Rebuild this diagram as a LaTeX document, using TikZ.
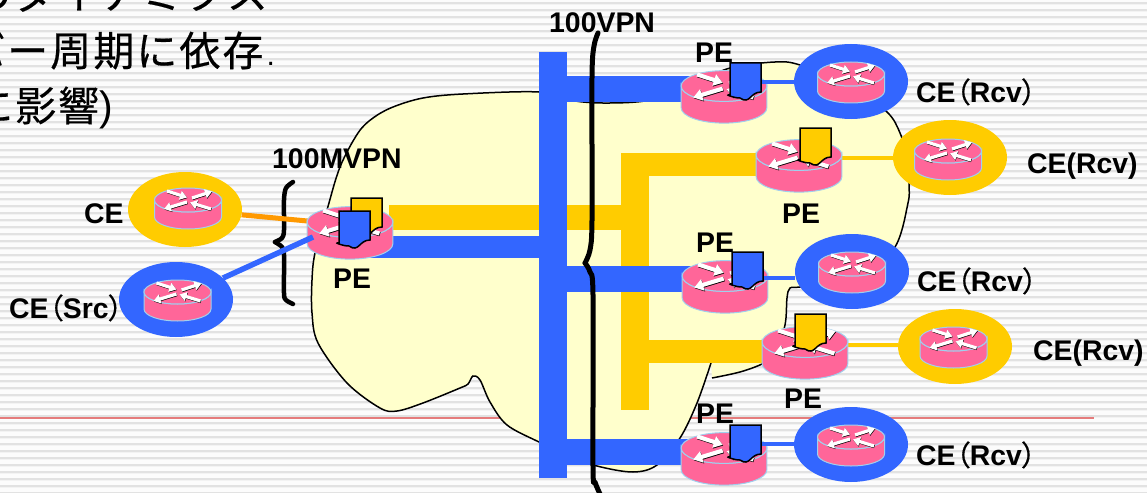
\documentclass[tikz,border=0pt]{standalone}
\usepackage{fontspec}
\usetikzlibrary{arrows.meta,shapes.geometric}
\setmainfont{Liberation Sans}
\newfontfamily\jpfont[LetterSpace=5,FakeBold=0.4]{Noto Sans CJK JP}
\newfontfamily\parenfont[RawFeature=+palt,FakeBold=0.5]{Noto Sans CJK JP}
\definecolor{vpnblue}{HTML}{3366FF}
\definecolor{vpnyellow}{HTML}{FFCC00}
\definecolor{vpnorange}{HTML}{FF9900}
\definecolor{routerpink}{HTML}{FF6699}
\definecolor{routeredge}{HTML}{A0D0EE}
\definecolor{cloudcream}{HTML}{FFFFCC}
\definecolor{stripegray}{HTML}{E2E2E2}
\definecolor{stripelight}{HTML}{F3F3F3}
\definecolor{rulered}{HTML}{E57C7C}
\tikzset{
  ring/.style={ellipse,inner sep=0pt,minimum width=114pt,minimum height=75pt},
  label/.style={anchor=base west,inner sep=0pt,yshift=-0.7pt,font=\fontsize{28.4}{28.4}\selectfont\bfseries,text=black},
  jptext/.style={inner sep=0pt,font=\fontsize{41}{41}\selectfont\jpfont,text=black},
  bluebar/.style={draw=vpnblue,line width=26pt},
  yellowbar/.style={draw=vpnyellow,line width=23pt},
  brace/.style={draw=black,line cap=round,line join=round},
}
\newcommand{\routerat}[4]{%
  \coordinate (#1) at (#2,#3);
  \begin{scope}[shift={(#2,#3)},scale=#4]
    \path[fill=routerpink,draw=routeredge,line width=1pt]
      (-33.5,0) arc[start angle=180,end angle=0,x radius=33.5,y radius=12]
      -- (33.5,17) arc[start angle=0,end angle=180,x radius=33.5,y radius=12] -- cycle;
    \path[fill=routerpink,draw=routeredge,line width=1pt] (0,0) ellipse[x radius=33.5,y radius=12];
    \foreach \ax/\ay/\bx/\by in {-21/-9/-1/-2.5, 4/-2/24/-8.5, -1/2/-24/9, 23/9/2/2.5}{
      \draw[black,line width=3.2pt*#4,-{Triangle[length=7pt,width=9pt,scale=#4]}] (\ax+.4,\ay+.6) -- (\bx+.4,\by+.6);
      \draw[white,line width=3.2pt*#4,-{Triangle[length=7pt,width=9pt,scale=#4]}] (\ax,\ay) -- (\bx,\by);
    }
  \end{scope}}
\newcommand{\docat}[3]{%
  \path[fill=#3,draw=black,line width=1.5pt,line join=miter]
    (#1,#2) -- ++(31,0) -- ++(0,29)
    .. controls ++(-11,0) and ++(10,7) .. ++(-21,6)
    .. controls ++(-4,0.5) and ++(-7,-1) .. ++(-10,-3) -- cycle;}
\begin{document}
\begin{tikzpicture}[x=1pt,y=-1pt]
\useasboundingbox (0,0) rectangle (1147,492);
\clip (0,0) rectangle (1147,492);
\fill[white!99!black] (0,0) rectangle (1147,492);
\foreach \s in {3,10,...,493}{
  \fill[stripegray] (0,\s-1) rectangle (1147,\s+1);
  \fill[stripelight] (0,\s+1) rectangle (1147,\s+2);
}
\fill[rulered] (0,417) rectangle (1094,418.5);

% title text
\node[jptext,anchor=base east] (t1) at (268,9) {のダイナミクス};
\node[jptext,anchor=base west] (t2) at (-36,66) {バー周期に依存{\normalfont\fontsize{30}{30}\selectfont\kern3pt.}};
\node[jptext,anchor=base west] (t3) at (-28,121) {に影響{\normalfont )}};

% cloud
\draw[fill=cloudcream,draw=black,line width=1.5pt] plot[smooth,tension=.55] coordinates {
 (711,363) (697,403) (680,438) (657,465) (633,472) (597,466) (567,455) (539,442) (507,425)
 (490,402) (480,380) (473,376) (468,384) (460,388) (423,403) (397,411) (380,408) (347,383)
 (318,343) (312,313) (312,280) (315,253) (327,210) (340,167) (358,133) (373,118) (393,107)
 (423,98) (463,94) (539,92) (575,101) (610,103) (650,100) (690,85) (730,68) (775,62) (800,65)
 (850,85) (887,112) (900,133) (908,160) (909,185) (908,203) (895,247) (860,280) (800,287)
 (790,288) (787,298) (785,325) (775,355) (762,364) (740,372) (712,378)};

% yellow tree
\node[fill=vpnyellow,inner sep=0pt,minimum width=28pt,minimum height=257pt] (ytrunk) at (635,281.5) {};
\coordinate (y1) at (757,164.5);
\coordinate (y2) at (763,351.5);
\coordinate (y0) at (389,217.5);
\draw[yellowbar] (ytrunk.center |- y1) -- (y1);
\draw[yellowbar] (ytrunk.center |- y2) -- (y2);
\draw[yellowbar,line width=25pt] (y0) -- (y0 -| ytrunk.center);

% blue bus
\node[fill=vpnblue,inner sep=0pt,minimum width=28pt,minimum height=426pt] (bus) at (553,265) {};
\coordinate (b0) at (370,247);
\coordinate (b1) at (724,89);
\coordinate (b3) at (725,279);
\coordinate (b5) at (724,452);
\draw[bluebar,line width=22pt] (b0) -- (b0 -| bus.center);
\draw[bluebar] (bus.center |- b1) -- (b1);
\draw[bluebar] (bus.center |- b3) -- (b3);
\draw[bluebar] (bus.center |- b5) -- (b5);

% CE rings
\node[ring,fill=vpnyellow] (ceA) at (185,209.5) {};
\node[ring,fill=vpnblue] (ceS) at (176,299.5) {};
\node[ring,fill=vpnblue] (ce1) at (851,81.5) {};
\node[ring,fill=vpnyellow] (ce2) at (950,157.5) {};
\node[ring,fill=vpnblue] (ce3) at (852,271.5) {};
\node[ring,fill=vpnyellow] (ce4) at (955,346.5) {};
\node[ring,fill=vpnblue] (ce5) at (851,444.5) {};

% braces
\draw[brace,line width=4.5pt] plot[smooth,tension=.5] coordinates {(293,182) (286,188) (284,200) (284,230) (282,238) (275,242)};
\draw[brace,line width=4.5pt] plot[smooth,tension=.5] coordinates {(275,242) (282,247) (284,255) (284,293) (286,300) (293,304)};

% yellow/orange access links (under the routers)
\coordinate (pe2p) at (800,158);
\coordinate (pe4p) at (800,345);
\coordinate (pe0a) at (350,225);
\draw[vpnyellow,line width=4pt] (pe2p) -- (pe2p -| ce2.west);
\draw[vpnyellow,line width=4pt] (pe4p) -- (pe4p -| ce4.west);
\draw[vpnorange,line width=5pt] (ceA) -- (pe0a);

% routers
\routerat{pe0}{350}{222}{1.28}
\routerat{pe1}{724}{86}{1.28}
\routerat{pe2}{799}{155}{1.28}
\routerat{pe3}{725}{276}{1.28}
\routerat{pe4}{805}{342}{1.28}
\routerat{pe5}{724}{448}{1.28}
\routerat{rA}{188}{200}{1}
\routerat{rS}{177.5}{292}{1}
\routerat{r1}{851}{74}{1}
\routerat{r2}{948}{151}{1}
\routerat{r3}{852}{264}{1}
\routerat{r4}{953.5}{339}{1}
\routerat{r5}{851}{437}{1}

% blue access links (over the routers)
\coordinate (pe0b) at (313,237);
\coordinate (pe1p) at (755,82);
\coordinate (pe3p) at (755,278);
\coordinate (pe5p) at (755,444);
\draw[vpnblue,line width=5.5pt] (ceS) -- (pe0b);
\draw[vpnblue,line width=4pt] (pe1p) -- (pe1p -| ce1.west);
\draw[vpnblue,line width=4pt] (pe3p) -- (pe3p -| ce3.west);
\draw[vpnblue,line width=4pt] (pe5p) -- (pe5p -| ce5.west);

% document tags
\docat{351}{198}{vpnyellow}
\docat{339}{211}{vpnblue}
\docat{730}{63}{vpnblue}
\docat{800}{128}{vpnyellow}
\docat{732}{252}{vpnblue}
\docat{795}{314}{vpnyellow}
\docat{730}{425}{vpnblue}

% big brace
\draw[brace,line width=5pt] plot[smooth,tension=.5] coordinates {(598,33) (594,46) (592,77) (592,220) (590,250) (585,263)};
\draw[brace,line width=5pt] plot[smooth,tension=.5] coordinates {(585,263) (590,272) (593,295) (593,467) (595,482) (600,494)};

% labels
\node[label] (l1) at (272,168) {100MVPN};
\node[label] (l2) at (549,32) {100VPN};
\node[label] (l3) at (84,223) {CE};
\node[label] (l4) at (9,318) {CE{\parenfont\mdseries （}Src{\parenfont\mdseries ）}};
\node[label] (l5) at (333,288) {PE};
\node[label] (l6) at (695,62) {PE};
\node[label] (l7) at (782,223) {PE};
\node[label] (l8) at (696,252) {PE};
\node[label] (l9) at (784,408) {PE};
\node[label] (l10) at (696,423) {PE};
\node[label] (l11) at (916,102) {CE{\parenfont\mdseries （}Rcv{\parenfont\mdseries ）}};
\node[label] (l12) at (1027,173) {CE(Rcv)};
\node[label] (l13) at (917,291) {CE{\parenfont\mdseries （}Rcv{\parenfont\mdseries ）}};
\node[label] (l14) at (1033,360) {CE(Rcv)};
\node[label] (l15) at (916,465) {CE{\parenfont\mdseries （}Rcv{\parenfont\mdseries ）}};
\end{tikzpicture}
\end{document}
